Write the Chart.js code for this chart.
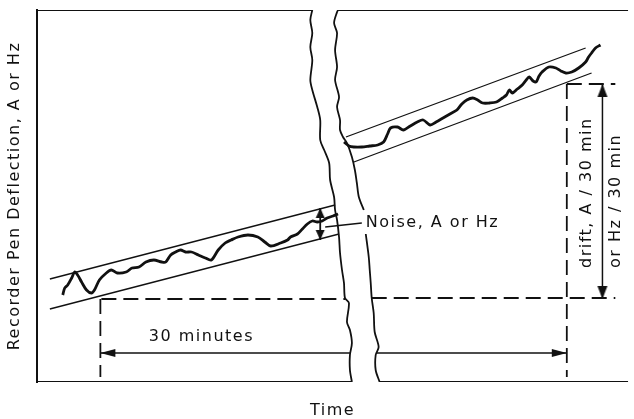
<!DOCTYPE html>
<html>
<head>
<meta charset="utf-8">
<script src="https://cdn.jsdelivr.net/npm/chart.js@4.4.1/dist/chart.umd.min.js"></script>
<style>
	html, body { margin: 0; padding: 0; background: #fff; }
	#wrap { width: 634px; height: 419px; }
</style>
</head>
<body>
<div id="wrap"><canvas id="drift-chart"></canvas></div>
<script>
/*
 * Recorder drift / noise schematic.
 * t = time along the chart (0 = left frame), d = pen deflection (0 = bottom frame).
 * Every value below.
 */
var T_MAX = 597;
var D_MAX = 372;

// pen trace before the break in the chart paper
var leftTrace = [
	[26, 87], [28, 94], [31, 97], [35, 104], [38, 110], [41, 107], [45, 100], [50, 92],
	[55, 89], [58, 92], [63, 102], [70, 109], [75, 112], [81, 109], [90, 110], [96, 114],
	[103, 115], [110, 120], [118, 122], [126, 120], [130, 120], [135, 127], [140, 130],
	[145, 132], [150, 130], [156, 130], [163, 127], [170, 124], [176, 122], [183, 132],
	[190, 139], [196, 142], [203, 145], [213, 147], [223, 145], [230, 140], [236, 136],
	[246, 139], [253, 142], [256, 145], [263, 148], [268, 153], [273, 158], [278, 161],
	[283, 160], [288, 161], [293, 164], [299, 166], [304, 168]
];

// pen trace after the break
var rightTrace = [
	[310, 240], [315, 236], [320, 235], [328, 235], [336, 236], [344, 237], [350, 240],
	[354, 248], [357, 254], [364, 255], [370, 252], [377, 256], [384, 260], [390, 262],
	[397, 257], [403, 260], [410, 264], [417, 268], [424, 272], [429, 278], [434, 282],
	[440, 284], [445, 282], [450, 279], [457, 279], [464, 280], [470, 284], [474, 287],
	[477, 292], [480, 289], [485, 293], [490, 297], [494, 302], [497, 305], [501, 301],
	[504, 300], [507, 306], [510, 310], [517, 315], [524, 314], [529, 311], [534, 309],
	[540, 310], [547, 314], [554, 320], [557, 325], [560, 329], [564, 334], [569, 337]
];

// noise envelopes
var leftBandUpper = [[13, 103], [301, 177]];
var leftBandLower = [[13, 73], [305, 148]];
var rightBandUpper = [[312, 245], [554, 334]];
var rightBandLower = [[320, 220], [560, 309]];

// torn edges of the chart paper
var breakLeft = [
	[278, 372], [276, 362], [278, 349], [276, 335], [278, 322], [276, 302], [278, 292],
	[283, 275], [286, 262], [286, 242], [290, 232], [295, 219], [296, 202], [300, 185],
	[301, 172], [303, 162], [305, 145], [306, 129], [308, 112], [310, 99], [311, 84],
	[315, 79], [313, 60], [316, 52], [318, 39], [316, 27], [316, 12], [318, 0]
];
var breakRightTop = [
	[304, 372], [303, 370], [300, 359], [303, 349], [301, 332], [303, 315], [301, 302],
	[305, 285], [303, 275], [306, 262], [306, 252], [309, 245], [313, 239], [318, 225],
	[321, 212], [323, 199], [325, 185], [330, 172]
];
var breakRightBottom = [
	[332, 148], [335, 125], [336, 112], [337, 99], [338, 84], [340, 69], [341, 50],
	[345, 35], [342, 27], [342, 12], [346, 0]
];

// frame pieces either side of the break
var frameTopLeft = [[0, D_MAX], [278, D_MAX]];
var frameTopRight = [[304, D_MAX], [T_MAX, D_MAX]];
var frameBottomLeft = [[0, 0], [318, 0]];
var frameBottomRight = [[346, 0], [T_MAX, 0]];

// construction lines
var baseDashLeft = [[65, 83], [311, 83]];
var baseDashRight = [[338, 84], [584, 84]];
var topDash = [[535, 298], [584, 298]];
var startDash = [[64, 83], [64, 5]];
var endDash = [[535, 298], [535, 5]];
var spanArrowLeft = [[64, 29], [316, 29]];
var spanArrowRight = [[343, 29], [535, 29]];
var driftArrow = [[571, 298], [571, 83]];
var noiseArrow = [[286, 174], [286, 142]];
var noiseLeader = [[291, 155], [328, 159]];

// annotation texts and where they sit
var noteTexts = ['30 minutes', 'Noise, A or Hz', 'drift, A / 30 min', 'or Hz / 30 min'];
var noteT = [166, 332, 555, 585];
var noteD = [45, 159, 114, 114];
var noteAngle = [0, 0, -90, -90];
var noteAlign = ['center', 'left', 'left', 'left'];

var INK = '#111';
var FONT_FAMILY = 'DejaVu Sans';

function arrowHead(len, halfWidth) {
	var c = document.createElement('canvas');
	c.width = Math.ceil(halfWidth) * 2 + 2;
	c.height = Math.ceil(len) * 2 + 2;
	var g = c.getContext('2d');
	var cx = c.width / 2;
	var cy = c.height / 2;
	g.fillStyle = INK;
	g.beginPath();
	g.moveTo(cx, cy);
	g.lineTo(cx - halfWidth, cy + len);
	g.lineTo(cx + halfWidth, cy + len);
	g.closePath();
	g.fill();
	return c;
}

var spanHead = arrowHead(15, 4);
var driftHead = arrowHead(13, 5);
var noiseHead = arrowHead(10, 4.5);

function lineSet(pairs, extra) {
	var ds = {
		data: pairs.map(function (p) { return { x: p[0], y: p[1] }; }),
		showLine: true,
		borderColor: INK,
		borderWidth: 1.5,
		pointRadius: 0,
		tension: 0,
		fill: false
	};
	for (var k in extra) {
		ds[k] = extra[k];
	}
	return ds;
}

var dash = [15, 7];

var datasets = [
	lineSet(frameTopLeft, { borderWidth: 2 }),
	lineSet(frameTopRight, { borderWidth: 2 }),
	lineSet(frameBottomLeft, { borderWidth: 2 }),
	lineSet(frameBottomRight, { borderWidth: 2 }),
	lineSet(breakLeft, { borderWidth: 1.8, tension: 0.3 }),
	lineSet(breakRightTop, { borderWidth: 1.8, tension: 0.3 }),
	lineSet(breakRightBottom, { borderWidth: 1.8, tension: 0.3 }),
	lineSet(leftBandUpper, { borderWidth: 1.3 }),
	lineSet(leftBandLower, { borderWidth: 1.3 }),
	lineSet(rightBandUpper, { borderWidth: 1.3 }),
	lineSet(rightBandLower, { borderWidth: 1.3 }),
	lineSet(leftTrace, { borderWidth: 2.8, tension: 0.3 }),
	lineSet(rightTrace, { borderWidth: 2.8, tension: 0.3 }),
	lineSet(baseDashLeft, { borderWidth: 1.8, borderDash: dash }),
	lineSet(baseDashRight, { borderWidth: 1.8, borderDash: dash }),
	lineSet(topDash, { borderWidth: 1.8, borderDash: dash }),
	lineSet(startDash, { borderWidth: 1.8, borderDash: dash }),
	lineSet(endDash, { borderWidth: 1.8, borderDash: dash }),
	lineSet(spanArrowLeft, { pointStyle: spanHead, pointRadius: [3, 0], pointRotation: [270, 0] }),
	lineSet(spanArrowRight, { pointStyle: spanHead, pointRadius: [0, 3], pointRotation: [0, 90] }),
	lineSet(driftArrow, { pointStyle: driftHead, pointRadius: [3, 3], pointRotation: [0, 180] }),
	lineSet(noiseArrow, { borderWidth: 1.8, pointStyle: noiseHead, pointRadius: [3, 3], pointRotation: [0, 180] }),
	lineSet(noiseLeader, { borderWidth: 1.3 })
];

var noteText = {
	id: 'noteText',
	beforeDraw: function (chart) {
		chart.ctx.letterSpacing = '1.5px';
	},
	afterDatasetsDraw: function (chart) {
		var ctx = chart.ctx;
		var xs = chart.scales.x;
		var ys = chart.scales.y;
		ctx.save();
		ctx.fillStyle = INK;
		ctx.font = '16px "' + FONT_FAMILY + '"';
		ctx.textBaseline = 'middle';
		noteTexts.forEach(function (text, i) {
			ctx.save();
			ctx.translate(xs.getPixelForValue(noteT[i]), ys.getPixelForValue(noteD[i]));
			ctx.rotate(noteAngle[i] * Math.PI / 180);
			ctx.textAlign = noteAlign[i];
			ctx.fillText(text, 0, 0);
			ctx.restore();
		});
		ctx.restore();
	}
};

new Chart(document.getElementById('drift-chart'), {
	type: 'scatter',
	data: { datasets: datasets },
	plugins: [noteText],
	options: {
		responsive: true,
		maintainAspectRatio: false,
		animation: false,
		events: [],
		layout: { padding: { top: 10, left: 0, right: 0, bottom: 0 } },
		plugins: {
			legend: { display: false },
			tooltip: { enabled: false }
		},
		scales: {
			x: {
				type: 'linear',
				min: 0,
				max: T_MAX,
				ticks: { display: false },
				grid: { display: false, drawTicks: false },
				border: { display: false },
				title: {
					display: true,
					text: 'Time',
					color: INK,
					font: { family: FONT_FAMILY, size: 16, lineHeight: 1 },
					padding: { top: 21, bottom: 0 }
				}
			},
			y: {
				type: 'linear',
				min: 0,
				max: D_MAX,
				ticks: { display: false },
				grid: { display: false, drawTicks: false },
				border: { display: true, color: INK, width: 2 },
				title: {
					display: true,
					text: 'Recorder Pen Deflection, A or Hz',
					color: INK,
					font: { family: FONT_FAMILY, size: 16, lineHeight: 1.2 },
					padding: { top: 5.4, bottom: 12.4 }
				}
			}
		}
	}
});
</script>
</body>
</html>
